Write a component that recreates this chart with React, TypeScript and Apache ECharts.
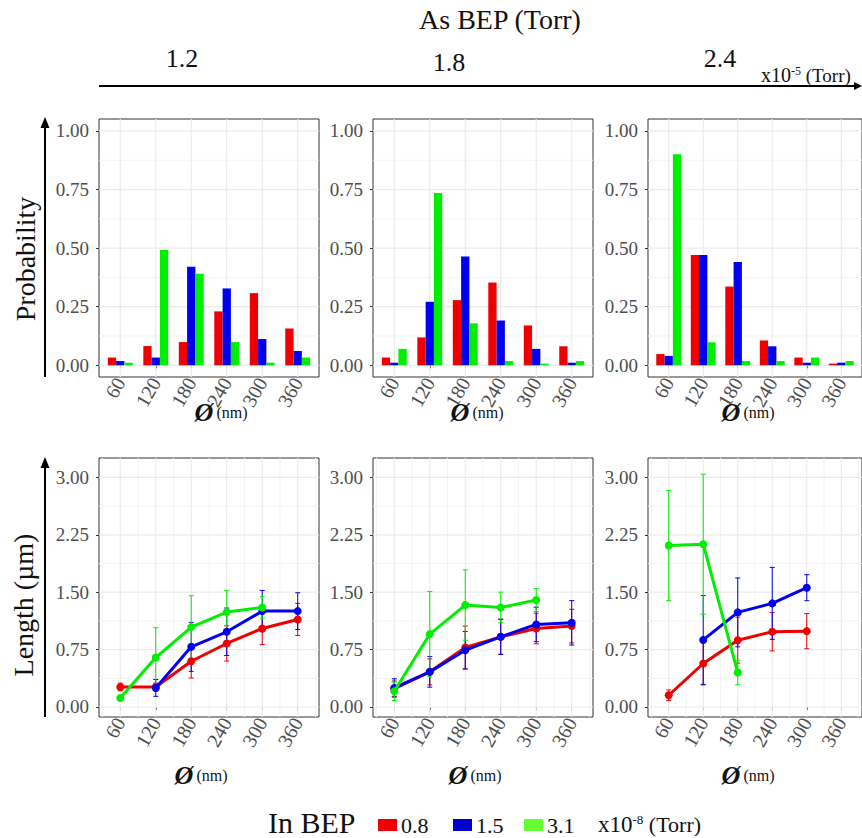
import React, { useEffect, useRef } from "react";
import * as echarts from "echarts";

// ---------- data ----------
const diameters = [60, 120, 180, 240, 300, 360];
const inBepNames = ["0.8", "1.5", "3.1"];
const asBepValues = ["1.2", "1.8", "2.4"];
const probTicks = [0, 0.25, 0.5, 0.75, 1];
const lenTicks = [0, 0.75, 1.5, 2.25, 3];

// probability of diameter, per As BEP panel and In BEP series
const prob12Red = [0.033, 0.082, 0.099, 0.23, 0.308, 0.157];
const prob12Blue = [0.018, 0.033, 0.421, 0.328, 0.112, 0.061];
const prob12Green = [0.011, 0.492, 0.391, 0.099, 0.011, 0.033];
const prob18Red = [0.033, 0.119, 0.278, 0.353, 0.17, 0.081];
const prob18Blue = [0.011, 0.271, 0.464, 0.191, 0.07, 0.011];
const prob18Green = [0.07, 0.735, 0.179, 0.018, 0.007, 0.018];
const prob24Red = [0.048, 0.471, 0.336, 0.106, 0.033, 0.007];
const prob24Blue = [0.04, 0.471, 0.441, 0.081, 0.011, 0.011];
const prob24Green = [0.901, 0.098, 0.018, 0.018, 0.033, 0.018];

// mean length (µm) and error half-width
const len12Red = [0.262, 0.262, 0.598, 0.83, 1.026, 1.144];
const err12Red = [0.05, 0.05, 0.22, 0.23, 0.21, 0.21];
const len12Blue = [null, 0.249, 0.786, 0.983, 1.253, 1.253];
const err12Blue = [null, 0.11, 0.32, 0.31, 0.27, 0.24];
const len12Green = [0.118, 0.646, 1.044, 1.24, 1.301, null];
const err12Green = [0.03, 0.39, 0.41, 0.28, 0.14, null];

const len18Red = [0.24, 0.459, 0.777, 0.917, 1.026, 1.057];
const err18Red = [0.1, 0.17, 0.28, 0.23, 0.2, 0.22];
const len18Blue = [0.249, 0.459, 0.742, 0.917, 1.079, 1.1];
const err18Blue = [0.12, 0.2, 0.245, 0.23, 0.225, 0.29];
const len18Green = [0.205, 0.952, 1.332, 1.301, 1.397, null];
const err18Green = [0.12, 0.557, 0.46, 0.2, 0.15, null];

const len24Red = [0.153, 0.568, 0.873, 0.983, 0.991, null];
const err24Red = [0.07, 0.28, 0.3, 0.25, 0.23, null];
const len24Blue = [null, 0.876, 1.236, 1.354, 1.559, null];
const err24Blue = [null, 0.58, 0.45, 0.47, 0.17, null];
const len24Green = [2.11, 2.127, 0.45, null, null, null];
const err24Green = [0.72, 0.915, 0.16, null, null, null];

// gridline positions
const xMinorGrid = [30, 90, 150, 210, 270, 330, 390];
const probMinorGrid = [0.125, 0.375, 0.625, 0.875];
const lenMinorGrid = [0.375, 1.125, 1.875, 2.625];

// ---------- styling ----------
const COLORS = ["#ee0000", "#0000ee", "#00ee00"];
const LEGEND_COLORS = ["#f00000", "#0000cc", "#66ff33"];
const SERIF = "Liberation Serif";
const COL_LEFT = [99, 373, 648];
const COL_W = 220;
const TOP_Y = 119;
const TOP_H = 258;
const BOT_Y = 458;
const BOT_H = 259;

const probPanels = [
  [prob12Red, prob12Blue, prob12Green],
  [prob18Red, prob18Blue, prob18Green],
  [prob24Red, prob24Blue, prob24Green],
];
const lenPanels = [
  [len12Red, len12Blue, len12Green],
  [len18Red, len18Blue, len18Green],
  [len24Red, len24Blue, len24Green],
];
const errPanels = [
  [err12Red, err12Blue, err12Green],
  [err18Red, err18Blue, err18Green],
  [err24Red, err24Blue, err24Green],
];

function gridSeries(idx: number, xMajor: number[], xMinor: number[], yMajor: number[], yMinor: number[]) {
  const data: number[][] = [];
  xMinor.forEach((v) => data.push([0, v, 1]));
  yMinor.forEach((v) => data.push([1, v, 1]));
  xMajor.forEach((v) => data.push([0, v, 0]));
  yMajor.forEach((v) => data.push([1, v, 0]));
  return {
    type: "custom",
    xAxisIndex: idx,
    yAxisIndex: idx,
    z: 1,
    silent: true,
    data,
    renderItem: (params: any, api: any) => {
      const cs = params.coordSys;
      const isY = api.value(0) === 1;
      const v = api.value(1);
      const minor = api.value(2) === 1;
      const style = { stroke: minor ? "#f4f4f4" : "#ebebeb", lineWidth: minor ? 1 : 1.2 };
      if (isY) {
        const py = api.coord([diameters[0], v])[1];
        return { type: "line", shape: { x1: cs.x, y1: py, x2: cs.x + cs.width, y2: py }, style };
      }
      const px = api.coord([v, 0])[0];
      return { type: "line", shape: { x1: px, y1: cs.y, x2: px, y2: cs.y + cs.height }, style };
    },
  };
}

function makeAxes(idx: number, isTop: boolean) {
  const xAxis = {
    type: "value",
    gridIndex: idx,
    min: 24,
    max: 396,
    interval: 60,
    splitLine: { show: false },
    axisLine: { show: false },
    axisTick: { show: true, length: 3, customValues: diameters, lineStyle: { color: "#333" } },
    axisLabel: {
      customValues: diameters,
      rotate: 60,
      margin: 2,
      color: "#4d4d4d",
      fontFamily: SERIF,
      fontSize: 20,
      formatter: (v: number) => "{t|" + v + "}",
      rich: { t: { fontFamily: SERIF, fontSize: 20, color: "#4d4d4d" } },
    },
  };
  const ticks = isTop ? probTicks : lenTicks;
  const yAxis = {
    type: "value",
    gridIndex: idx,
    min: isTop ? -0.05 : -0.131,
    max: isTop ? 1.051 : 3.254,
    splitLine: { show: false },
    axisLine: { show: false },
    axisTick: { show: true, length: 3, customValues: ticks, lineStyle: { color: "#333" } },
    axisLabel: {
      customValues: ticks,
      margin: 10,
      color: "#4d4d4d",
      fontFamily: SERIF,
      fontSize: 19,
      formatter: (v: number) => v.toFixed(2),
    },
  };
  return { xAxis, yAxis };
}

function buildOption() {
  const grid: any[] = [];
  const xAxis: any[] = [];
  const yAxis: any[] = [];
  const series: any[] = [];

  // top row: bar panels
  for (let c = 0; c < 3; c++) {
    const idx = c;
    grid.push({
      left: COL_LEFT[c], top: TOP_Y, width: COL_W, height: TOP_H,
      show: true, borderColor: "#333", borderWidth: 1, backgroundColor: "#fff",
    });
    const a = makeAxes(idx, true);
    xAxis.push(a.xAxis);
    yAxis.push(a.yAxis);
    series.push(gridSeries(idx, diameters, [], probTicks, probMinorGrid));
    probPanels[c].forEach((vals, s) => {
      series.push({
        type: "bar",
        name: inBepNames[s],
        xAxisIndex: idx,
        yAxisIndex: idx,
        z: 3,
        barWidth: 8.3,
        barGap: "0%",
        itemStyle: { color: COLORS[s] },
        data: vals.map((v, i) => [diameters[i], v]),
      });
    });
  }

  // bottom row: line panels with error bars
  for (let c = 0; c < 3; c++) {
    const idx = 3 + c;
    grid.push({
      left: COL_LEFT[c], top: BOT_Y, width: COL_W, height: BOT_H,
      show: true, borderColor: "#333", borderWidth: 1, backgroundColor: "#fff",
    });
    const a = makeAxes(idx, false);
    xAxis.push(a.xAxis);
    yAxis.push(a.yAxis);
    series.push(gridSeries(idx, diameters, xMinorGrid, lenTicks, lenMinorGrid));
    lenPanels[c].forEach((vals, s) => {
      const errs = errPanels[c][s];
      const errData: number[][] = [];
      vals.forEach((v, i) => {
        if (v != null && errs[i] != null) errData.push([diameters[i], v - (errs[i] as number), v + (errs[i] as number)]);
      });
      series.push({
        type: "custom",
        xAxisIndex: idx,
        yAxisIndex: idx,
        z: 2,
        silent: true,
        data: errData,
        renderItem: (_p: any, api: any) => {
          const lo = api.coord([api.value(0), api.value(1)]);
          const hi = api.coord([api.value(0), api.value(2)]);
          const st = { stroke: COLORS[s], lineWidth: 1 };
          return {
            type: "group",
            children: [
              { type: "line", shape: { x1: lo[0], y1: lo[1], x2: hi[0], y2: hi[1] }, style: st },
              { type: "line", shape: { x1: lo[0] - 2.5, y1: lo[1], x2: lo[0] + 2.5, y2: lo[1] }, style: st },
              { type: "line", shape: { x1: hi[0] - 2.5, y1: hi[1], x2: hi[0] + 2.5, y2: hi[1] }, style: st },
            ],
          };
        },
      });
    });
    lenPanels[c].forEach((vals, s) => {
      const pts: number[][] = [];
      vals.forEach((v, i) => {
        if (v != null) pts.push([diameters[i], v]);
      });
      series.push({
        type: "line",
        name: inBepNames[s],
        xAxisIndex: idx,
        yAxisIndex: idx,
        z: 3 + s,
        symbol: "circle",
        symbolSize: 8,
        lineStyle: { color: COLORS[s], width: 3 },
        itemStyle: { color: COLORS[s] },
        data: pts,
      });
    });
  }

  const phiTitle = (x: number, y: number) => ({
    type: "text",
    x,
    y,
    z: 10,
    style: {
      text: "{o|Ø} {n|(nm)}",
      align: "center",
      verticalAlign: "middle",
      rich: {
        o: { fontFamily: SERIF, fontSize: 26, fontWeight: "bold", fontStyle: "italic", fill: "#111" },
        n: { fontFamily: SERIF, fontSize: 16, fill: "#111" },
      },
    },
  });

  const graphic: any[] = [
    { type: "text", x: 500, y: 19, style: { text: "As BEP (Torr)", fontFamily: SERIF, fontSize: 28, fill: "#111", align: "center", verticalAlign: "middle" } },
    { type: "text", x: 182, y: 58, style: { text: asBepValues[0], fontFamily: SERIF, fontSize: 26, fill: "#111", align: "center", verticalAlign: "middle" } },
    { type: "text", x: 449, y: 62, style: { text: asBepValues[1], fontFamily: SERIF, fontSize: 26, fill: "#111", align: "center", verticalAlign: "middle" } },
    { type: "text", x: 720, y: 58, style: { text: asBepValues[2], fontFamily: SERIF, fontSize: 26, fill: "#111", align: "center", verticalAlign: "middle" } },
    {
      type: "text", x: 761, y: 75,
      style: {
        text: "{a|x10}{s|-5}{b| (Torr)}",
        verticalAlign: "middle",
        rich: {
          a: { fontFamily: SERIF, fontSize: 20, fill: "#111" },
          s: { fontFamily: SERIF, fontSize: 12, fill: "#111", verticalAlign: "top", padding: [0, 0, 8, 0] },
          b: { fontFamily: SERIF, fontSize: 19, fill: "#111" },
        },
      },
    },
    { type: "line", shape: { x1: 99, y1: 86, x2: 860, y2: 86 }, style: { stroke: "#000", lineWidth: 2 } },
    { type: "polygon", shape: { points: [[854, 82], [862, 86], [854, 90]] }, style: { fill: "#000" } },
    // left arrows
    { type: "line", shape: { x1: 45, y1: 377, x2: 45, y2: 126 }, style: { stroke: "#000", lineWidth: 2 } },
    { type: "polygon", shape: { points: [[40.5, 128], [45, 117], [49.5, 128]] }, style: { fill: "#000" } },
    { type: "line", shape: { x1: 45, y1: 717, x2: 45, y2: 466 }, style: { stroke: "#000", lineWidth: 2 } },
    { type: "polygon", shape: { points: [[40.5, 468], [45, 457], [49.5, 468]] }, style: { fill: "#000" } },
    { type: "text", x: 25, y: 259, rotation: Math.PI / 2, style: { text: "Probability", fontFamily: SERIF, fontSize: 28, fill: "#111", align: "center", verticalAlign: "middle" } },
    { type: "text", x: 23, y: 605, rotation: Math.PI / 2, style: { text: "Length (µm)", fontFamily: SERIF, fontSize: 28, fill: "#111", align: "center", verticalAlign: "middle" } },
    phiTitle(221, 412),
    phiTitle(477, 412),
    phiTitle(748, 412),
    phiTitle(201, 775),
    phiTitle(475, 775),
    phiTitle(748, 775),
    // legend
    { type: "text", x: 268, y: 822, style: { text: "In BEP", fontFamily: SERIF, fontSize: 30, fill: "#111", verticalAlign: "middle" } },
  ];
  const legendX = [378, 453, 524];
  inBepNames.forEach((n, i) => {
    graphic.push({ type: "rect", shape: { x: legendX[i], y: 819, width: 19, height: 12 }, style: { fill: LEGEND_COLORS[i] } });
    graphic.push({ type: "text", x: legendX[i] + 23, y: 825, style: { text: n, fontFamily: SERIF, fontSize: 22, fill: "#111", verticalAlign: "middle" } });
  });
  graphic.push({
    type: "text", x: 598, y: 824,
    style: {
      text: "{a|x10}{s|-8}{b| (Torr)}",
      verticalAlign: "middle",
      rich: {
        a: { fontFamily: SERIF, fontSize: 23, fill: "#111" },
        s: { fontFamily: SERIF, fontSize: 13, fill: "#111", verticalAlign: "top", padding: [0, 0, 10, 0] },
        b: { fontFamily: SERIF, fontSize: 22, fill: "#111" },
      },
    },
  });

  return {
    animation: false,
    backgroundColor: "#fff",
    grid,
    xAxis,
    yAxis,
    series,
    graphic,
  };
}

export default function App() {
  const ref = useRef<HTMLDivElement>(null);
  useEffect(() => {
    if (!ref.current) return;
    const chart = echarts.init(ref.current, undefined, { renderer: "svg" });
    chart.setOption(buildOption() as any);
    return () => chart.dispose();
  }, []);
  return (
    <div
      ref={ref}
      style={{ position: "absolute", left: 0, top: 0, width: 862, height: 838, background: "#fff" }}
    />
  );
}
